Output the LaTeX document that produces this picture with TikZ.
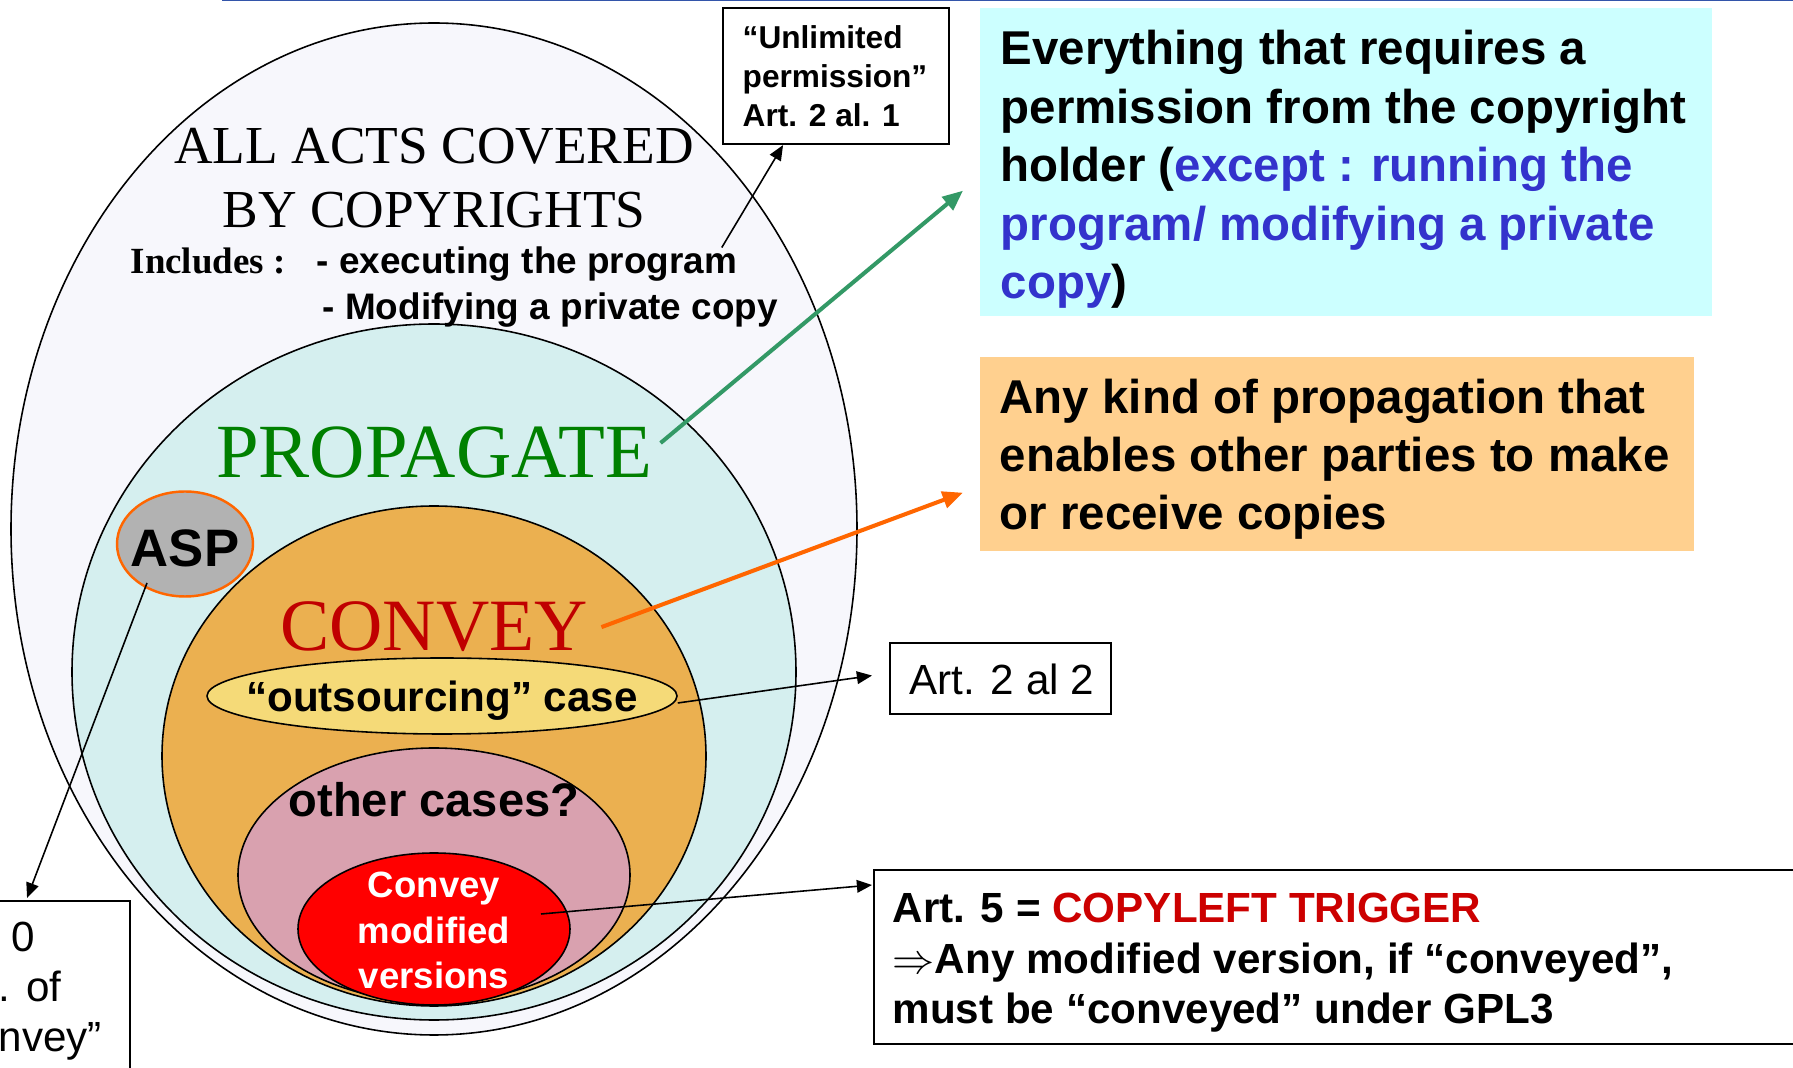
\documentclass[tikz,border=0pt]{standalone}
\usepackage{fontspec}
\setmainfont{Liberation Serif}
\newfontfamily\arial{Liberation Sans}
\usetikzlibrary{shapes.geometric,arrows.meta}

\definecolor{outerfill}{HTML}{F7F7FC}
\definecolor{propfill}{HTML}{D5EFEF}
\definecolor{convfill}{HTML}{EBB050}
\definecolor{outsfill}{HTML}{F5DA78}
\definecolor{otherfill}{HTML}{D9A1AF}
\definecolor{aspfill}{HTML}{B2B2B2}
\definecolor{aspline}{HTML}{FF6600}
\definecolor{bluefill}{HTML}{CCFFFF}
\definecolor{orfill}{HTML}{FFD08F}
\definecolor{exceptblue}{HTML}{3333CC}
\definecolor{propgreen}{HTML}{008000}
\definecolor{convred}{HTML}{C00000}
\definecolor{trigred}{HTML}{CC0000}
\definecolor{arrgreen}{HTML}{339966}
\definecolor{arrorange}{HTML}{FF6600}
\definecolor{topline}{HTML}{3355AA}

\begin{document}
\begin{tikzpicture}[x=0.1mm,y=-0.1mm,
    blob/.style={ellipse,draw,line width=0.45pt,inner sep=0pt},
    frame/.style={draw,line width=0.6pt,inner sep=0pt,anchor=north west},
    panel/.style={inner sep=0pt,anchor=north west},
    words/.style={inner sep=0pt,align=left,anchor=north west},
    link/.style={line width=0.45pt,-{Triangle[length=4.3pt,width=3.6pt]}},
    fat/.style={line width=1.15pt,-{Triangle[length=5.8pt,width=4.8pt]}}]
\useasboundingbox (0,0) rectangle (1793,1068);
\clip (0,0) rectangle (1793,1068);
\fill[white] (0,0) rectangle (1793,1068);
\draw[topline,line width=0.25mm] (222,0) -- (1793,0);

% nested sets of acts
\node[blob,fill=outerfill,minimum width=84.6mm,minimum height=101.2mm] (outer) at (434,529) {};
\node[blob,fill=propfill,minimum width=72.4mm,minimum height=69.6mm] (propell) at (434,672) {};
\node[blob,fill=convfill,minimum width=54.4mm,minimum height=50mm] (convell) at (434,756) {};
\node[blob,fill=outsfill,minimum width=47mm,minimum height=7.6mm] (outs) at (442,696) {};
\node[blob,fill=otherfill,minimum width=39.2mm,minimum height=25.4mm] (other) at (434,875) {};
\node[blob,fill=red,minimum width=27.2mm,minimum height=15.2mm] (redell) at (434,929) {};
\node[blob,draw=aspline,line width=0.7pt,fill=aspfill,minimum width=13.6mm,minimum height=10.5mm] (asp) at (185,544) {};

\node[inner sep=0pt,align=center,anchor=north,font=\fontsize{15.2}{18.2}\selectfont] (title) at (434,118)
    {\strut ALL ACTS COVERED\\BY COPYRIGHTS};
\node[inner sep=0pt,anchor=base west,font=\bfseries\fontsize{10.5}{12}\selectfont] (incl) at (130,274) {Includes :};
\node[inner sep=0pt,anchor=base west,font=\arial\bfseries\fontsize{10.5}{12}\selectfont] (exec) at (316,274) {- executing the program};
\node[inner sep=0pt,anchor=base west,font=\arial\bfseries\fontsize{10.5}{12}\selectfont] (modif) at (322,320) {- Modifying a private copy};

\node[inner sep=0pt,anchor=base,text=propgreen,font=\fontsize{21.8}{25}\selectfont] (prop) at (434,478) {PROPAGATE};
\node[inner sep=0pt,anchor=base,text=convred,font=\fontsize{21}{24}\selectfont] (conv) at (434,651) {CONVEY};
\node[inner sep=0pt,anchor=base,font=\arial\bfseries\fontsize{12}{14}\selectfont] (outstxt) at (442,712) {“outsourcing” case};
\node[inner sep=0pt,anchor=base,font=\arial\bfseries\fontsize{13.4}{16}\selectfont] (othertxt) at (434,817) {other cases?};
\node[inner sep=0pt,align=center,anchor=north,text=white,font=\arial\bfseries\fontsize{10.4}{12.95}\selectfont] (redtxt) at (434,865)
    {\strut Convey\\modified\\versions};
\node[inner sep=0pt,anchor=base,font=\arial\bfseries\fontsize{15}{18}\selectfont] (asptxt) at (185,567) {ASP};

% notes around
\node[frame,fill=white,minimum width=22.6mm,minimum height=13.6mm] (unlim) at (722,7) {};
\node[words,font=\arial\bfseries\fontsize{9}{11.1}\selectfont] (unlimtxt) at (742,20.7)
    {\strut “Unlimited\\permission”\\Art. 2 al. 1};

\node[panel,fill=bluefill,minimum width=73.2mm,minimum height=30.8mm] (bluebox) at (979,7) {};
\node[words,font=\arial\bfseries\fontsize{13.5}{16.64}\selectfont] (bluetxt) at (1000,23)
    {\strut Everything that requires a\\permission from the copyright\\holder (\textcolor{exceptblue}{except : running the}\\\textcolor{exceptblue}{program/ modifying a private}\\\textcolor{exceptblue}{copy})};

\node[panel,fill=orfill,minimum width=71.4mm,minimum height=19.4mm] (orbox) at (979,356) {};
\node[words,font=\arial\bfseries\fontsize{13.5}{16.5}\selectfont] (ortxt) at (999,372.4)
    {\strut Any kind of propagation that\\enables other parties to make\\or receive copies};

\node[frame,minimum width=22.1mm,minimum height=7.1mm] (art22) at (889,642) {};
\node[inner sep=0pt,anchor=base west,font=\arial\fontsize{12}{14}\selectfont] (art22txt) at (909,695) {Art. 2 al 2};

\node[frame,minimum width=95mm,minimum height=17.4mm] (art5) at (873,869) {};
\node[words,font=\arial\bfseries\fontsize{12}{14.37}\selectfont] (art5txt) at (892,886.6)
    {\strut Art. 5 = \textcolor{trigred}{COPYLEFT TRIGGER}\\$\Rightarrow$Any modified version, if “conveyed”,\\must be “conveyed” under GPL3};

\node[frame,minimum width=20.6mm,minimum height=25mm] (leftbox) at (-77,900) {};
\node[words,font=\arial\fontsize{12}{14.2}\selectfont] (lefttxt) at (-2,916)
    {\strut\hspace*{1.3mm}0\\. of\\nvey”};

% arrows
\draw[link] ([shift={(-16,1)}]exec.north east) -- ([shift={(-53,0)}]unlim.south);
\draw[fat,draw=arrgreen,fill=arrgreen] ([shift={(8,-10)}]prop.east) -- ([shift={(-16,29)}]bluebox.west);
\draw[fat,draw=arrorange,fill=arrorange] ([shift={(13,0)}]conv.east) -- ([shift={(-16,39)}]orbox.west);
\draw[link] ([shift={(0,7)}]outs.east) -- ([shift={(-17,-3)}]art22.west);
\draw[link] ([shift={(107,-15)}]redell.center) -- ([shift={(-1,16)}]art5.north west);
\draw[link] ([shift={(-38,39)}]asp.center) -- ([shift={(0,-2)}]leftbox.north);
\end{tikzpicture}
\end{document}
